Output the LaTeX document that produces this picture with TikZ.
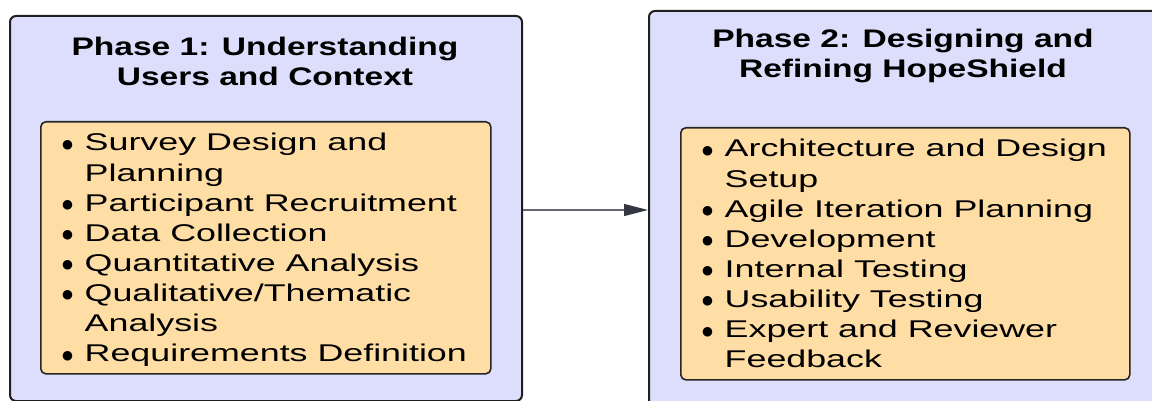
\documentclass[tikz,border=0pt]{standalone}
\usepackage{fontspec}
\setmainfont{Liberation Sans}[FakeStretch=1.48]
\newfontfamily\titlefont{Liberation Sans}[FakeStretch=1.32]
\newfontfamily\dotfont{DejaVu Sans}
\usetikzlibrary{arrows.meta}
\definecolor{phasefill}{RGB}{221,221,252}
\definecolor{listfill}{RGB}{255,222,166}
\definecolor{edgegray}{RGB}{102,104,112}
\definecolor{tipgray}{RGB}{51,55,65}
\newcommand{\bul}{\makebox[22.5pt][l]{\raisebox{2.5pt}{\dotfont\fontsize{12.5}{12.5}\selectfont ●}}}
\begin{document}
\begin{tikzpicture}[x=1pt,y=-1pt,
  phase/.style={draw=black!88, line width=2pt, fill=phasefill, rounded corners=6pt,
    inner sep=0pt, anchor=north west},
  listbox/.style={draw=black!85, line width=1.6pt, fill=listfill, rounded corners=5pt,
    inner sep=0pt, anchor=north west},
  titletext/.style={anchor=base, inner sep=0pt,
    font={\titlefont\bfseries\fontsize{25.4}{29.2}\selectfont}},
  itemtext/.style={anchor=base west, inner sep=0pt,
    font={\fontsize{24.2}{30.1}\selectfont}},
  flow/.style={edgegray, line width=1.2pt,
    -{Triangle[length=24pt,width=12pt,color=tipgray]}}
]
\useasboundingbox (0,0) rectangle (1152,401);
\clip (0,0) rectangle (1152,401);

% outer phase boxes
\node[phase, minimum width=512pt, minimum height=385pt] (p1) at (9,15) {};
\node[phase, minimum width=512pt, minimum height=398pt] (p2) at (648,10) {};

% inner list boxes
\node[listbox, minimum width=450pt, minimum height=252pt] (l1) at (40,121) {};
\node[listbox, minimum width=449pt, minimum height=252pt] (l2) at (680,127) {};

% titles
\node[titletext] (h1) at (265,56) {\begin{tabular}[t]{@{}c@{}}Phase 1: Understanding\\Users and Context\end{tabular}};
\node[titletext] (h2) at (903,48) {\begin{tabular}[t]{@{}c@{}}Phase 2: Designing and\\Refining HopeShield\end{tabular}};

% item lists
\node[itemtext] (i1) at (62,151) {\begin{tabular}[t]{@{}l@{}l@{}}
\bul & Survey Design and\\
 & Planning\\
\bul & Participant Recruitment\\
\bul & Data Collection\\
\bul & Quantitative Analysis\\
\bul & Qualitative/Thematic\\
 & Analysis\\
\bul & Requirements Definition
\end{tabular}};
\node[itemtext] (i2) at (702,157) {\begin{tabular}[t]{@{}l@{}l@{}}
\bul & Architecture and Design\\
 & Setup\\
\bul & Agile Iteration Planning\\
\bul & Development\\
\bul & Internal Testing\\
\bul & Usability Testing\\
\bul & Expert and Reviewer\\
 & Feedback
\end{tabular}};

% connector
\draw[flow] (p1.east |- p2.west) -- (p2.west);
\end{tikzpicture}
\end{document}
